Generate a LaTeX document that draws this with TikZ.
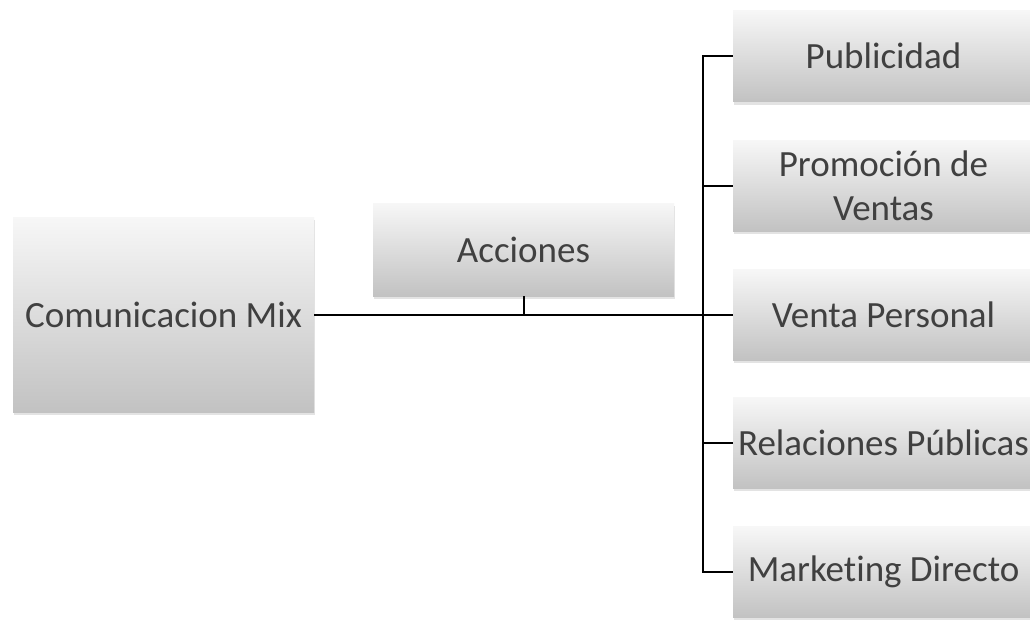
\documentclass[tikz,border=0pt]{standalone}
\usepackage{fontspec}
\setmainfont{Carlito}[Ligatures={NoCommon}]
\usetikzlibrary{shadows}
\definecolor{txt}{HTML}{404040}
\definecolor{topc}{HTML}{F7F7F7}
\definecolor{midc}{HTML}{E9E9E9}
\definecolor{botc}{HTML}{C2C2C2}
\begin{document}
\begin{tikzpicture}[x=1pt,y=-1pt,
  box/.style={rectangle, inner sep=0pt, top color=topc, middle color=midc, bottom color=botc,
    text=txt, font=\fontsize{37}{44}\selectfont, align=center,
    drop shadow={opacity=0.22, shadow xshift=0.5pt, shadow yshift=-3pt}},
  conn/.style={draw=black, line width=2pt}]
\useasboundingbox (0,0) rectangle (1030,619);
\fill[white] (0,0) rectangle (1030,619);
\node[box, minimum width=301pt, minimum height=195pt] (com) at (163.5,314.5) {Comunicacion Mix};
\node[box, minimum width=301pt, minimum height=93pt] (acc) at (523.5,249.5) {Acciones};
\node[box, minimum width=301pt, minimum height=91pt] (pub) at (883.5,56) {Publicidad};
\node[box, minimum width=301pt, minimum height=91pt] (pro) at (883.5,185.5) {Promoción de\\Ventas};
\node[box, minimum width=301pt, minimum height=91pt] (ven) at (883.5,314.5) {Venta Personal};
\node[box, minimum width=301pt, minimum height=91pt] (rel) at (883.5,442.5) {Relaciones Públicas};
\node[box, minimum width=301pt, minimum height=91pt] (mkt) at (883.5,572) {Marketing Directo};
\coordinate (tx) at (703,0);
\draw[conn] (com.east) -- (ven.west);
\draw[conn] (acc.south) -- (acc.south |- com.east);
\draw[conn] (pub.west) -- (pub.west -| tx) -- (mkt.west -| tx) -- (mkt.west);
\draw[conn] (pro.west -| tx) -- (pro.west);
\draw[conn] (rel.west -| tx) -- (rel.west);
\end{tikzpicture}
\end{document}
